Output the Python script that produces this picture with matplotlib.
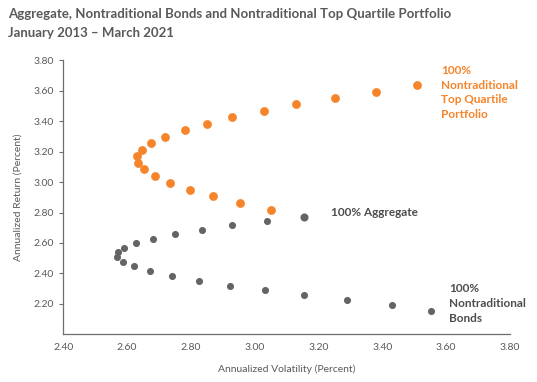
import matplotlib
matplotlib.use("Agg")
import matplotlib.pyplot as plt

# Data (Annualized Volatility, Annualized Return)
top_q_vol = [3.51, 3.38, 3.25, 3.13, 3.03, 2.93, 2.85, 2.78, 2.72, 2.675, 2.646, 2.632,
             2.635, 2.653, 2.687, 2.734, 2.796, 2.869, 2.955, 3.051]
top_q_ret = [3.64, 3.59, 3.55, 3.51, 3.466, 3.425, 3.383, 3.339, 3.297, 3.256, 3.212, 3.170,
             3.126, 3.083, 3.039, 2.995, 2.951, 2.907, 2.863, 2.817]

bonds_vol = [3.038, 2.930, 2.834, 2.750, 2.681, 2.628, 2.591, 2.571, 2.568, 2.586,
             2.621, 2.673, 2.742, 2.825, 2.923, 3.033, 3.155, 3.289, 3.430, 3.552]
bonds_ret = [2.745, 2.716, 2.686, 2.657, 2.626, 2.598, 2.567, 2.539, 2.508, 2.475,
             2.447, 2.416, 2.383, 2.353, 2.320, 2.289, 2.256, 2.223, 2.190, 2.155]

agg_vol = [3.155]
agg_ret = [2.771]

x_ticks = [2.40, 2.60, 2.80, 3.00, 3.20, 3.40, 3.60, 3.80]
y_ticks = [2.20, 2.40, 2.60, 2.80, 3.00, 3.20, 3.40, 3.60, 3.80]

ORANGE = "#F5842A"
GRAY = "#636466"
TEXT = "#58595B"
AXIS = "#6D6E71"

plt.rcParams['font.family'] = ['Lato', 'DejaVu Sans']

fig = plt.figure(figsize=(5.37, 3.82), dpi=100)
ax = fig.add_axes([63.3/537, 1-334.3/382, (510-63.3)/537, (334.3-60.3)/382])

ax.scatter(bonds_vol, bonds_ret, s=26, color=GRAY, linewidths=0, zorder=3)
ax.scatter(agg_vol, agg_ret, s=34, color=GRAY, linewidths=0, zorder=3)
ax.scatter(top_q_vol, top_q_ret, s=40, color=ORANGE, linewidths=0, zorder=4, clip_on=False)

ax.set_xlim(2.40, 3.80)
ax.set_ylim(2.00, 3.80)
ax.set_xticks(x_ticks)
ax.set_yticks(y_ticks)
ax.set_xticklabels([f"{v:.2f}" for v in x_ticks])
ax.set_yticklabels([f"{v:.2f}" for v in y_ticks])
ax.tick_params(axis='x', length=0, pad=6, labelsize=7.5, labelcolor=TEXT)
ax.tick_params(axis='y', length=3, width=0.8, color=AXIS, pad=4, labelsize=7.5, labelcolor=TEXT)

for side in ['top', 'right']:
    ax.spines[side].set_visible(False)
for side in ['left', 'bottom']:
    ax.spines[side].set_color(AXIS)
    ax.spines[side].set_linewidth(0.9)

fig.text(287/537, 1-369/382, "Annualized Volatility (Percent)", ha='center', va='center',
         fontsize=7.5, color=TEXT)
fig.text(18/537, 1-197/382, "Annualized Return (Percent)", ha='center', va='center',
         rotation=90, fontsize=7.5, color=TEXT)

fig.text(8/537, 1-14/382, "Aggregate, Nontraditional Bonds and Nontraditional Top Quartile Portfolio",
         ha='left', va='center', fontsize=9.5, fontweight='bold', color=TEXT)
fig.text(8/537, 1-33/382, "January 2013 \u2013 March 2021",
         ha='left', va='center', fontsize=9.5, fontweight='bold', color=TEXT)

fig.text(441/537, 1-92.5/382, "100%\nNontraditional\nTop Quartile\nPortfolio", ha='left', va='center',
         fontsize=8.5, fontweight='bold', color=ORANGE, linespacing=1.4)
fig.text(331/537, 1-212/382, "100% Aggregate", ha='left', va='center',
         fontsize=8.5, fontweight='bold', color="#4D4D4F")
fig.text(449/537, 1-303.5/382, "100%\nNontraditional\nBonds", ha='left', va='center',
         fontsize=8.5, fontweight='bold', color="#4D4D4F", linespacing=1.4)

fig.savefig("out.png", dpi=100)
